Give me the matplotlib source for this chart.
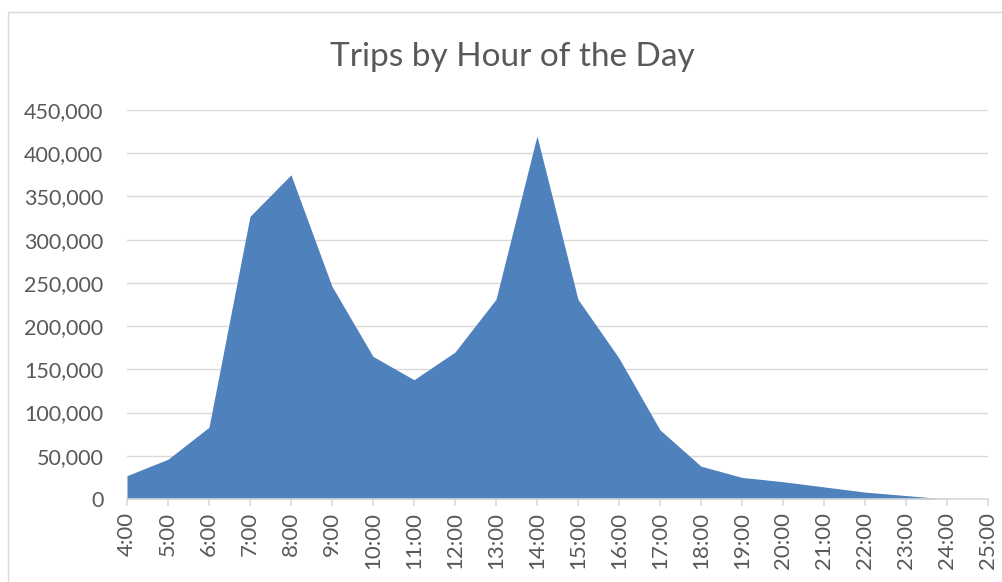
import matplotlib
matplotlib.use('Agg')
import matplotlib.pyplot as plt
from matplotlib.ticker import FuncFormatter

hours = list(range(4, 25))
trips = [27000, 46000, 83000, 327000, 375000, 246000, 165000, 138000, 170000,
         231000, 420000, 231000, 163000, 80000, 38000, 25000, 20000, 14000,
         8000, 4000, 0]
tick_hours = list(range(4, 26))
tick_labels = ['%d:00' % h for h in tick_hours]

plt.rcParams['font.family'] = ['Lato', 'DejaVu Sans']
txt = '#595959'
grid = '#d9d9d9'

fig = plt.figure(figsize=(10.03, 5.82), dpi=100)
ax = fig.add_axes([0.1266, 0.1426, 0.985 - 0.1266, 0.811 - 0.1426])
ax.fill_between(hours, trips, 0, color='#4f81bd', linewidth=0)

ax.set_xlim(4, 25)
ax.set_ylim(0, 450000)
ax.set_yticks(range(0, 450001, 50000))
ax.yaxis.set_major_formatter(FuncFormatter(lambda v, p: '{:,.0f}'.format(v)))
ax.set_xticks(tick_hours)
ax.set_xticklabels(tick_labels, rotation=90)
ax.grid(axis='y', color=grid, linewidth=1)
ax.set_axisbelow(True)
for s in ['top', 'right', 'left']:
    ax.spines[s].set_visible(False)
ax.spines['bottom'].set_color(grid)
ax.spines['bottom'].set_linewidth(1.2)
ax.tick_params(axis='y', length=0, pad=17, labelsize=15.5, labelcolor=txt)
ax.tick_params(axis='x', length=5, color=grid, width=1.2, pad=4, labelsize=16, labelcolor=txt)

fig.text(0.511, 0.902, 'Trips by Hour of the Day', ha='center', va='center',
         fontsize=24, color=txt)
fig.patches.append(plt.Rectangle((0.008, -0.01), 1.1, 0.99, transform=fig.transFigure,
                                 fill=False, edgecolor=grid, linewidth=1))

fig.savefig('out.png', dpi=100)
